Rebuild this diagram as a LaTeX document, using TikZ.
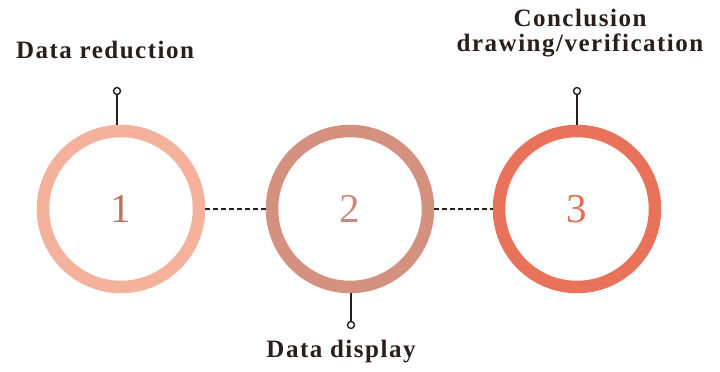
\documentclass[tikz,border=0pt]{standalone}
\usepackage{fontspec}
\setmainfont{Liberation Serif}
\newfontfamily\labfont[LetterSpace=6]{Liberation Serif}
\definecolor{ringA}{HTML}{F4B19C}
\definecolor{ringB}{HTML}{D4917F}
\definecolor{ringC}{HTML}{E8735A}
\definecolor{numA}{HTML}{C0725C}
\definecolor{numB}{HTML}{C88A7A}
\definecolor{numC}{HTML}{E0704F}
\definecolor{ink}{HTML}{2A1E1C}
\begin{document}
\begin{tikzpicture}[x=1pt,y=-1pt,
  ring/.style={circle,minimum size=156pt,line width=12.5pt,inner sep=0pt},
  num/.style={font=\fontsize{41}{41}\selectfont},
  lab/.style={font=\labfont\bfseries\fontsize{25}{25}\selectfont,text=ink,align=center,inner sep=0pt},
  pinline/.style={draw=ink,line width=1.6pt},
  pinend/.style={circle,draw=ink,line width=1.4pt,fill=white,minimum size=7pt,inner sep=0pt},
  link/.style={draw=ink,line width=1.6pt,dash pattern=on 5pt off 3pt}]
\useasboundingbox (0,0) rectangle (720,372);
\node[ring,draw=ringA] (c1) at (121,209) {};
\node[ring,draw=ringB] (c2) at (350,209) {};
\node[ring,draw=ringC] (c3) at (577,209) {};
\node[num,text=numA] (n1) at (c1) {1};
\node[num,text=numB] (n2) at (c2) {2};
\node[num,text=numC] (n3) at (c3) {3};
\draw[link] (c1.east) -- (c2.west);
\draw[link] (c2.east) -- (c3.west);
\node[pinend] (p1) at (117,91) {};
\node[pinend] (p2) at (351,325) {};
\node[pinend] (p3) at (577,91) {};
\draw[pinline] (p1.south) -- (117,125);
\draw[pinline] (p2.north) -- (351,293);
\draw[pinline] (p3.south) -- (577,125);
\node[lab] (t1) at (105,50) {Data reduction};
\node[lab] (t2) at (341,352) {Data display};
\node[lab] (t3) at (580,33) {Conclusion\\drawing/verification};
\end{tikzpicture}
\end{document}
